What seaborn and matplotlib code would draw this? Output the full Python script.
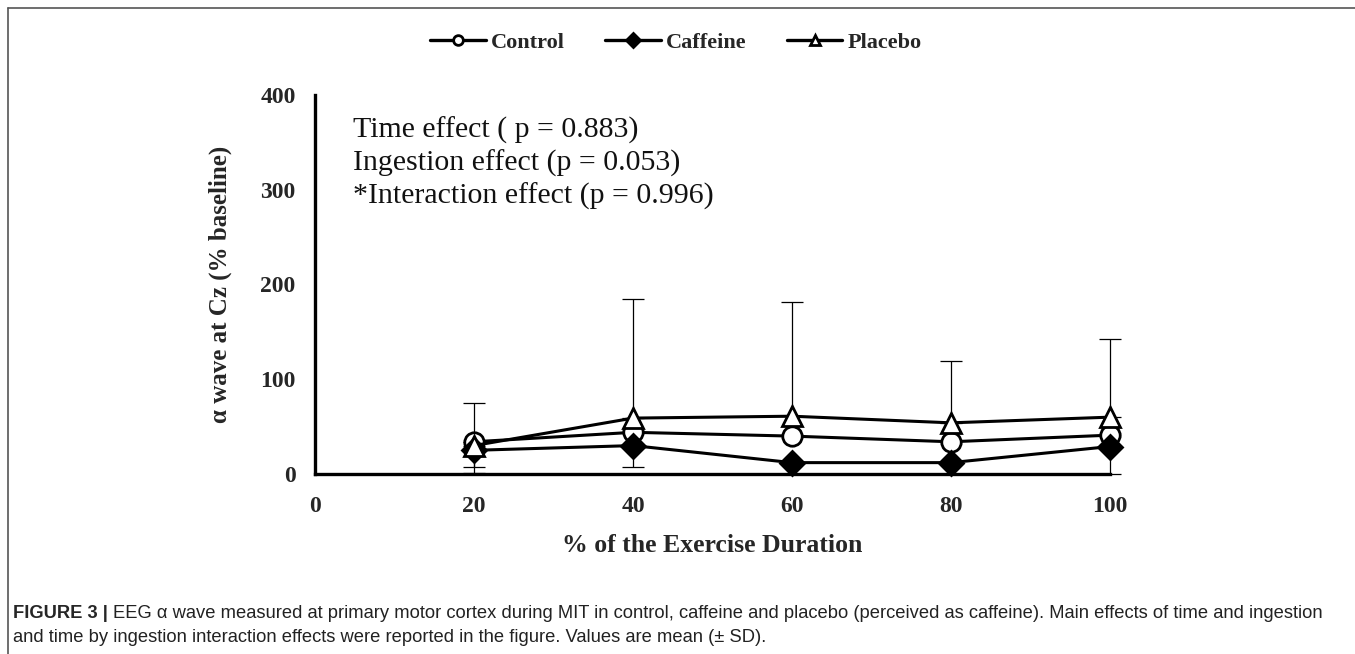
import numpy as np
import pandas as pd
import seaborn as sns
import matplotlib
matplotlib.use('Agg')
from matplotlib import pyplot as plt
from matplotlib.lines import Line2D

# data (% baseline)
duration = [20, 40, 60, 80, 100]
control = [34, 44, 40, 34, 41]
caffeine = [25, 30, 12, 12, 29]
placebo = [30, 59, 61, 54, 60]

# SD shown in the figure (one direction per group)
control_sd_low = [33, 0, 0, 0, 0]
caffeine_sd_low = [18, 23, 12, 12, 29]
placebo_sd_up = [45, 126, 121, 65, 82]

stats_text = ['Time effect ( p = 0.883)',
              'Ingestion effect (p = 0.053)',
              '*Interaction effect (p = 0.996)']

caption_bold = 'FIGURE 3 |'
caption_1 = ('EEG \u03b1 wave measured at primary motor cortex during MIT in control, caffeine and placebo '
             '(perceived as caffeine). Main effects of time and ingestion')
caption_2 = 'and time by ingestion interaction effects were reported in the figure. Values are mean (\u00b1 SD).'

sns.set_style('white')
plt.rcParams['font.family'] = ['Liberation Serif', 'DejaVu Serif']

fig = plt.figure(figsize=(13.55, 6.54), dpi=100)
ax = fig.add_axes([315 / 1355, 1 - 474 / 654, (1110 - 315) / 1355, (474 - 95) / 654])

df = pd.DataFrame({'duration': duration * 3,
                   'value': control + caffeine + placebo,
                   'group': ['Control'] * 5 + ['Caffeine'] * 5 + ['Placebo'] * 5})

styles = {
    'Control': dict(marker='o', markerfacecolor='white', markersize=14),
    'Caffeine': dict(marker='D', markerfacecolor='black', markersize=12),
    'Placebo': dict(marker='^', markerfacecolor='white', markersize=15),
}

# error bars (drawn first so markers sit on top)
eb = dict(fmt='none', ecolor='black', elinewidth=0.9, capsize=8, capthick=0.9, zorder=2)
for lo, up, yv in [(np.zeros(5), placebo_sd_up, placebo),
                   (caffeine_sd_low, np.zeros(5), caffeine)]:
    cont = ax.errorbar(duration, yv, yerr=[lo, up], **eb)
    for art in cont.lines[1] + cont.lines[2]:
        art.set_clip_on(False)
cont = ax.errorbar(duration[:1], control[:1], yerr=[control_sd_low[:1], [0]], **eb)

for grp, st in styles.items():
    sub = df[df['group'] == grp]
    sns.lineplot(data=sub, x='duration', y='value', ax=ax, color='black', linewidth=2.2,
                 markeredgecolor='black', markeredgewidth=2.0, zorder=3, legend=False,
                 clip_on=False, **st)

ax.set_xlim(0, 100)
ax.set_ylim(0, 400)
ax.set_xticks([0, 20, 40, 60, 80, 100])
ax.set_yticks([0, 100, 200, 300, 400])
ax.tick_params(axis='both', length=0, labelsize=17)
ax.tick_params(axis='x', pad=16)
ax.tick_params(axis='y', pad=14)
for lab in ax.get_xticklabels() + ax.get_yticklabels():
    lab.set_fontweight('bold')

for side in ['top', 'right']:
    ax.spines[side].set_visible(False)
for side in ['left', 'bottom']:
    ax.spines[side].set_linewidth(2.4)
    ax.spines[side].set_color('black')

ax.set_xlabel('% of the Exercise Duration', fontsize=18.5, fontweight='bold', labelpad=12)
ax.set_ylabel('\u03b1 wave at Cz (% baseline)', fontsize=18, fontweight='bold', labelpad=20)

for i, t in enumerate(stats_text):
    ax.text(0.048, 0.907 - i * 0.087, t, transform=ax.transAxes, fontsize=21.5,
            va='center', ha='left', color='#111111')

handles = [Line2D([], [], color='black', linewidth=2.4, markeredgecolor='black',
                  markeredgewidth=2.0, **dict(styles[g], markersize=7)) for g in styles]
fig.legend(handles, list(styles.keys()), loc='center', bbox_to_anchor=(676 / 1355, 1 - 43 / 654),
           ncol=3, frameon=False, handlelength=2.5, columnspacing=1.8, handletextpad=0.25,
           prop={'family': 'Liberation Serif', 'weight': 'bold', 'size': 16})

# frame lines around the figure panel
fig.add_artist(Line2D([8 / 1355, 8 / 1355], [0, 1 - 8 / 654], transform=fig.transFigure,
                      color='#555555', linewidth=1.2))
fig.add_artist(Line2D([8 / 1355, 1], [1 - 8 / 654, 1 - 8 / 654], transform=fig.transFigure,
                      color='#555555', linewidth=1.2))

sans = ['Liberation Sans', 'DejaVu Sans']
t0 = fig.text(13 / 1355, 1 - 613 / 654, caption_bold, fontsize=13.2, fontweight='bold',
              family=sans, va='center', ha='left')
fig.canvas.draw()
bb = t0.get_window_extent()
fig.text((bb.x1 + 5) / 1355, 1 - 613 / 654, caption_1, fontsize=13.2,
         family=sans, va='center', ha='left', color='#222222')
fig.text(13 / 1355, 1 - 638 / 654, caption_2, fontsize=13.2,
         family=sans, va='center', ha='left', color='#222222')

fig.savefig('out.png', dpi=100)
